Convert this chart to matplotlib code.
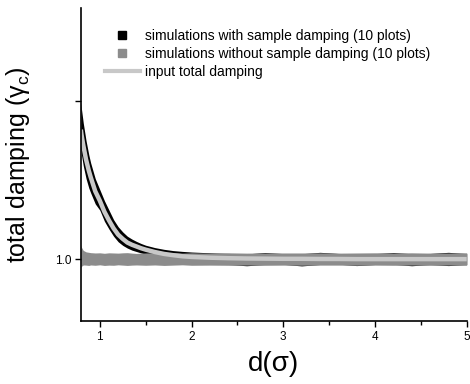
import matplotlib
matplotlib.use("Agg")
import matplotlib.pyplot as plt
from matplotlib.lines import Line2D
from matplotlib.ticker import MultipleLocator

plt.rcParams['font.family'] = ['Liberation Sans', 'DejaVu Sans']
plt.rcParams['mathtext.fontset'] = 'custom'
plt.rcParams['mathtext.rm'] = 'Liberation Sans'
plt.rcParams['mathtext.it'] = 'Liberation Sans'

# distance grid (sigma)
d = [0.793, 0.80, 0.82, 0.85, 0.88, 0.90, 0.95, 1.00, 1.05, 1.10, 1.15, 1.20,
     1.25, 1.30, 1.35, 1.40, 1.45, 1.50, 1.60, 1.70, 1.80, 1.90, 2.00, 2.20,
     2.40, 2.60, 2.80, 3.00, 3.20, 3.40, 3.60, 3.80, 4.00, 4.20, 4.40, 4.60,
     4.80, 5.00]

# input total damping
damp_input = [1.82, 1.79, 1.72, 1.63, 1.56, 1.52, 1.43, 1.37, 1.30, 1.245,
              1.195, 1.155, 1.128, 1.105, 1.091, 1.08, 1.069, 1.06, 1.045,
              1.033, 1.025, 1.018, 1.014, 1.009, 1.006, 1.004, 1.003, 1.002,
              1.002, 1.001, 1.001, 1.0, 1.0, 1.0, 1.0, 1.0, 1.0, 1.0]

# envelope of the 10 runs with sample damping
with_hi = [2.00, 1.95, 1.86, 1.75, 1.66, 1.61, 1.51, 1.44, 1.37, 1.31,
           1.25, 1.205, 1.172, 1.145, 1.127, 1.112, 1.099, 1.088, 1.073,
           1.062, 1.054, 1.049, 1.045, 1.040, 1.036, 1.033, 1.042, 1.035,
           1.034, 1.043, 1.036, 1.033, 1.035, 1.042, 1.034, 1.036, 1.043,
           1.035]
with_lo = [1.70, 1.66, 1.59, 1.51, 1.45, 1.42, 1.35, 1.31, 1.24, 1.19,
           1.145, 1.11, 1.087, 1.07, 1.057, 1.048, 1.039, 1.032, 1.02, 1.01,
           0.998, 0.99, 0.985, 0.970, 0.966, 0.958, 0.966, 0.967, 0.957,
           0.966, 0.968, 0.959, 0.966, 0.967, 0.958, 0.966, 0.959, 0.966]

# envelope of the 10 runs without sample damping
without_hi = [1.09, 1.075, 1.055, 1.046, 1.043, 1.041, 1.039, 1.040, 1.037,
              1.040, 1.039, 1.038, 1.040, 1.041, 1.038, 1.036, 1.038, 1.039,
              1.040, 1.037, 1.041, 1.038, 1.040, 1.038, 1.040, 1.038, 1.039,
              1.039, 1.039, 1.040, 1.038, 1.039, 1.040, 1.039, 1.040, 1.038,
              1.039, 1.040]
without_lo = [0.948, 0.955, 0.963, 0.962, 0.960, 0.963, 0.961, 0.964, 0.960,
              0.962, 0.961, 0.964, 0.962, 0.960, 0.962, 0.963, 0.962, 0.961,
              0.963, 0.960, 0.962, 0.964, 0.961, 0.962, 0.961, 0.962, 0.961,
              0.962, 0.961, 0.962, 0.962, 0.961, 0.962, 0.961, 0.962, 0.961,
              0.962, 0.961]

legend_labels = ['simulations with sample damping (10 plots)',
                 'simulations without sample damping (10 plots)',
                 'input total damping']

black = '#000000'
mid_grey = '#8c8c8c'
light_grey = '#c8c8c8'

fig = plt.figure(figsize=(4.70, 3.84), dpi=100)
ax = fig.add_axes([0.172, 0.164, 0.821, 0.815])

ax.fill_between(d, with_lo, with_hi, color=black, lw=0)
ax.fill_between(d, without_lo, without_hi, color=mid_grey, lw=0)
ax.plot(d, damp_input, color=light_grey, lw=3.2, solid_capstyle='butt')

ax.set_xlim(0.793, 5.0)
ax.set_ylim(0.608, 2.59)

ax.xaxis.set_major_locator(MultipleLocator(1))
ax.xaxis.set_minor_locator(MultipleLocator(0.5))
ax.set_yticks([1.0, 2.0])
ax.set_yticklabels(['1.0', ''])

for side in ('top', 'right'):
    ax.spines[side].set_visible(False)
for side in ('left', 'bottom'):
    ax.spines[side].set_linewidth(1.2)
ax.tick_params(which='major', direction='out', length=4, width=1.0,
               labelsize=8.5, pad=3)
ax.tick_params(which='minor', direction='out', length=3, width=1.0)

ax.set_xlabel('d(σ)', fontsize=20, labelpad=6)
ax.set_ylabel('total damping (γ$_\\mathrm{c}$)', fontsize=18, labelpad=16)

handles = [
    Line2D([], [], ls='none', marker='s', ms=6, color=black),
    Line2D([], [], ls='none', marker='s', ms=6, color=mid_grey),
    Line2D([], [], color=light_grey, lw=3),
]
fig.legend(handles, legend_labels, loc='upper left',
           bbox_to_anchor=(105 / 470, 1 - 29 / 384), frameon=False,
           fontsize=10, handlelength=2.5, handletextpad=0.35,
           labelspacing=0.3, borderpad=0, borderaxespad=0)

fig.savefig('out.png', dpi=100)
